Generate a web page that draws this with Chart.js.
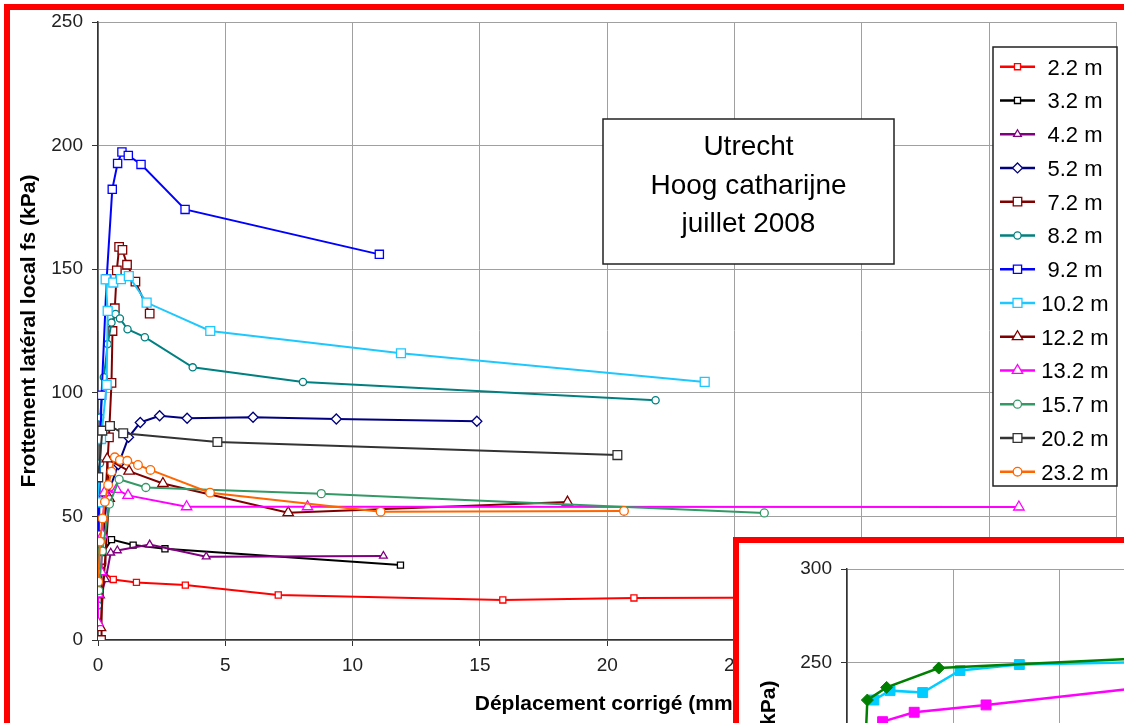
<!DOCTYPE html>
<html><head><meta charset="utf-8">
<script src="https://cdn.jsdelivr.net/npm/chart.js@4.4.0/dist/chart.umd.min.js"></script>
<style>
html,body{margin:0;padding:0;width:1124px;height:723px;overflow:hidden;background:#fff;}
#main{position:absolute;left:0;top:0;}
#frame{position:absolute;left:4px;top:4px;width:1300px;height:900px;border:6px solid #ff0000;pointer-events:none;}
#inset{position:absolute;left:733px;top:537px;width:1000px;height:800px;border:6px solid #ff0000;background:#fff;overflow:hidden;}
#insetCanvas{position:absolute;left:0;top:0;}
</style></head><body>
<canvas id="main" width="1124" height="723"></canvas>
<div id="frame"></div>
<div id="inset"><canvas id="insetCanvas" width="980" height="673"></canvas></div>
<script>
// ---------- main chart data (x: déplacement mm, y: fs kPa) ----------
const seriesLabels = ['2.2 m','3.2 m','4.2 m','5.2 m','7.2 m','8.2 m','9.2 m','10.2 m','12.2 m','13.2 m','15.7 m','20.2 m','23.2 m'];
const s2_2 = [[0.08,28.5],[0.6,24.5],[1.51,23.3],[3.43,22.2],[7.08,18.2],[15.9,16.2],[21.05,17],[28,17.2]];
const s3_2 = [[0.02,32.5],[0.53,40.6],[1.38,38.4],[2.63,36.9],[11.88,30.3]];
const s4_2 = [[0.1,18],[0.3,24.5],[0.5,35.3],[0.76,36.2],[2.03,38.6],[4.25,33.7],[11.21,34]];
const s5_2 = [[0.1,30],[0.35,58],[0.8,71],[1.2,82],[1.66,88],[2.42,90.7],[3.5,89.7],[6.09,90.1],[9.36,89.4],[14.88,88.5]];
const s7_2 = [[0.12,0],[0.14,32.4],[0.43,82],[0.53,104],[0.57,125],[0.66,134.2],[0.74,149.5],[0.83,159],[0.96,157.8],[1.14,151.8],[1.47,145],[2.03,132]];
const s8_2 = [[0,14],[0.08,71.5],[0.08,90],[0.23,106.3],[0.38,119.7],[0.53,128.4],[0.69,131.9],[0.86,130.1],[1.16,125.7],[1.84,122.5],[3.72,110.3],[8.05,104.4],[21.9,97]];
const s9_2 = [[0.01,42.5],[0.14,99],[0.34,146],[0.56,182.3],[0.77,192.8],[0.94,197.4],[1.19,196],[1.69,192.4],[3.42,174.2],[11.05,156]];
const s10_2 = [[0,55.7],[0.12,81.3],[0.34,103.2],[0.38,133.1],[0.3,145.9],[0.6,144.6],[0.9,146],[1.21,147.2],[1.91,136.5],[4.41,125],[11.9,116],[23.83,104.4]];
const s12_2 = [[0.1,5],[0.44,57.3],[0.36,73.3],[1.22,68.3],[2.55,63.3],[7.47,51.5],[18.44,55.8]];
const s13_2 = [[0,7],[0,18.6],[0.12,27.6],[0.18,42.5],[0.25,59.6],[0.73,60.9],[1.18,58.5],[3.48,53.9],[8.23,53.9],[36.17,53.8]];
const s15_7 = [[0.03,20],[0.17,36],[0.45,55],[0.83,65],[1.88,61.7],[8.77,59.2],[26.17,51.4]];
const s20_2 = [[0.01,65.8],[0.17,84.7],[0.47,86.6],[0.99,83.6],[4.69,80.1],[20.4,74.8]];
const s23_2 = [[0.01,23.6],[0.08,39.8],[0.18,49.2],[0.27,55.9],[0.4,62.7],[0.53,68.1],[0.66,73.9],[0.86,72.8],[1.15,72.5],[1.57,70.8],[2.06,68.8],[4.4,59.6],[11.1,51.9],[20.66,52.2]];
const xTickValues = [0,5,10,15,20,25,30,35,40];
const yTickValues = [0,50,100,150,200,250];
const titleLines = ['Utrecht','Hoog catharijne','juillet 2008'];

// ---------- inset chart data ----------
const insetGreen = [[0.8,190],[0.96,230.3],[1.87,237],[4.33,247.3],[15,253]];
const insetCyan = [[1.27,230.3],[2.03,235.3],[3.57,234.3],[5.33,246],[8.13,249.2],[15,250.6]];
const insetMagenta = [[1.68,218.8],[3.17,223.8],[6.56,227.7],[15,238.3]];
const insetYTicks = [50,100,150,200,250,300];

const FONT = '"Liberation Sans", Arial, sans-serif';
const seriesData = [s2_2,s3_2,s4_2,s5_2,s7_2,s8_2,s9_2,s10_2,s12_2,s13_2,s15_7,s20_2,s23_2];
const styles = [
  {c:'#ff0000', p:'rect', r:4.3},
  {c:'#000000', p:'rect', r:4.3},
  {c:'#800080', p:'triangle', r:4.5},
  {c:'#000080', p:'rectRot', r:5},
  {c:'#800000', p:'rect', r:6},
  {c:'#008080', p:'circle', r:3.6},
  {c:'#0000ff', p:'rect', r:5.8},
  {c:'#1ec8ff', p:'rect', r:6.3},
  {c:'#800000', p:'triangle', r:6},
  {c:'#ff00ff', p:'triangle', r:6},
  {c:'#339966', p:'circle', r:4},
  {c:'#333333', p:'rect', r:6.2},
  {c:'#ff6600', p:'circle', r:4.3}
];

const N = seriesLabels.length;
const datasets = seriesLabels.map((lab,i)=>({
  label: lab,
  data: seriesData[i].map(p=>({x:p[0], y:p[1]})),
  showLine: true,
  borderColor: styles[i].c,
  borderWidth: 2,
  tension: 0,
  pointStyle: styles[i].p,
  pointRadius: styles[i].r,
  pointBackgroundColor: '#ffffff',
  pointBorderColor: styles[i].c,
  pointBorderWidth: 1.3,
  order: N - i
}));

function drawMarker(ctx, style, r, x, y){
  ctx.beginPath();
  if (style==='rect'){ const s=r*Math.SQRT1_2; ctx.rect(x-s,y-s,2*s,2*s); }
  else if (style==='rectRot'){ ctx.moveTo(x,y-r); ctx.lineTo(x+r,y); ctx.lineTo(x,y+r); ctx.lineTo(x-r,y); ctx.closePath(); }
  else if (style==='triangle'){ const a=r*Math.sqrt(3)/2; ctx.moveTo(x,y-r); ctx.lineTo(x+a,y+r/2); ctx.lineTo(x-a,y+r/2); ctx.closePath(); }
  else { ctx.arc(x,y,r,0,Math.PI*2); }
  ctx.fill(); ctx.stroke();
}

const overlayPlugin = {
  id:'overlay',
  afterDatasetsDraw(chart){
    const ctx = chart.ctx;
    ctx.save();
    // title box
    ctx.fillStyle='#fff'; ctx.strokeStyle='#222'; ctx.lineWidth=1.5;
    ctx.fillRect(603,119,291,145); ctx.strokeRect(603,119,291,145);
    ctx.fillStyle='#000'; ctx.font='28px '+FONT; ctx.textAlign='center'; ctx.textBaseline='alphabetic';
    const ty=[155,193.5,232];
    titleLines.forEach((t,i)=>ctx.fillText(t,748.5,ty[i]));
    // legend box
    ctx.fillStyle='#fff'; ctx.strokeStyle='#222'; ctx.lineWidth=1.5;
    ctx.fillRect(993,47,124,439); ctx.strokeRect(993,47,124,439);
    ctx.font='22px '+FONT;
    seriesLabels.forEach((lab,i)=>{
      const y = 66.7 + i*33.75;
      ctx.strokeStyle=styles[i].c; ctx.lineWidth=2.5;
      ctx.beginPath(); ctx.moveTo(1000,y); ctx.lineTo(1035,y); ctx.stroke();
      ctx.fillStyle='#fff'; ctx.lineWidth=1.3;
      drawMarker(ctx, styles[i].p, styles[i].r, 1017.5, y);
      ctx.fillStyle='#000'; ctx.textAlign='center'; ctx.textBaseline='alphabetic';
      ctx.fillText(lab, 1075, y+8);
    });
    ctx.restore();
  }
};

new Chart(document.getElementById('main'), {
  type:'scatter',
  data:{datasets},
  plugins:[overlayPlugin],
  options:{
    responsive:false, animation:false, devicePixelRatio:1,
    layout:{padding:{top:22,right:4,left:0,bottom:0}},
    plugins:{legend:{display:false}, tooltip:{enabled:false}},
    scales:{
      x:{type:'linear', min:0, max:40,
        afterBuildTicks(s){ s.ticks = xTickValues.map(v=>({value:v})); },
        ticks:{color:'#222', font:{size:19, family:FONT}, padding:8, maxRotation:0, autoSkip:false},
        grid:{color:'#a0a0a0', lineWidth:1, tickLength:6, tickColor:'#333'},
        border:{color:'#333', width:1.5},
        title:{display:true, text:'Déplacement corrigé (mm)', color:'#000', font:{size:21, weight:'bold', family:FONT}, padding:{top:0,bottom:6}},
        afterFit(s){ s.height=83; s.paddingLeft=0; s.paddingRight=0; }
      },
      y:{type:'linear', min:0, max:250,
        afterBuildTicks(s){ s.ticks = yTickValues.map(v=>({value:v})); },
        ticks:{color:'#222', font:{size:19, family:FONT}, padding:9},
        grid:{color:'#a0a0a0', lineWidth:1, tickLength:6, tickColor:'#333'},
        border:{color:'#333', width:1.5},
        title:{display:true, text:'Frottement latéral local fs (kPa)', color:'#000', font:{size:21, weight:'bold', family:FONT}, padding:{top:17,bottom:0}},
        afterFit(s){ s.width=98; s.paddingTop=0; s.paddingBottom=0; }
      }
    }
  }
});

// ---------- inset chart ----------
const insetStyles = [
  {d:insetGreen, c:'#008000', p:'rectRot', r:6},
  {d:insetCyan, c:'#00ccff', p:'rect', r:7},
  {d:insetMagenta, c:'#ff00ff', p:'rect', r:7}
];
new Chart(document.getElementById('insetCanvas'), {
  type:'scatter',
  data:{datasets: insetStyles.map(s=>({
    data: s.d.map(p=>({x:p[0],y:p[1]})), showLine:true, borderColor:s.c, borderWidth:2.5, tension:0,
    pointStyle:s.p, pointRadius:s.r, pointBackgroundColor:s.c, pointBorderColor:s.c, pointBorderWidth:1
  }))},
  options:{
    responsive:false, animation:false, devicePixelRatio:1,
    layout:{padding:{top:26,right:24,left:0,bottom:28.2}},
    plugins:{legend:{display:false}, tooltip:{enabled:false}},
    scales:{
      x:{type:'linear', min:0, max:40,
        afterBuildTicks(s){ s.ticks = xTickValues.map(v=>({value:v})); },
        ticks:{color:'#222', font:{size:19, family:FONT}, padding:6, maxRotation:0, autoSkip:false},
        grid:{color:'#a0a0a0', tickLength:6, tickColor:'#333'}, border:{color:'#333', width:1.5},
        afterFit(s){ s.height=83; s.paddingLeft=0; s.paddingRight=0; }
      },
      y:{type:'linear', min:15, max:300,
        afterBuildTicks(s){ s.ticks = insetYTicks.map(v=>({value:v})); },
        ticks:{color:'#222', font:{size:19, family:FONT}, padding:9},
        grid:{color:'#a0a0a0', tickLength:6, tickColor:'#333'}, border:{color:'#333', width:1.5},
        title:{display:true, text:'Frottement latéral local fs (kPa)', color:'#000', font:{size:21, weight:'bold', family:FONT}, padding:{top:18,bottom:0}},
        afterFit(s){ s.width=108; s.paddingTop=0; s.paddingBottom=0; }
      }
    }
  }
});
</script>
</body></html>
